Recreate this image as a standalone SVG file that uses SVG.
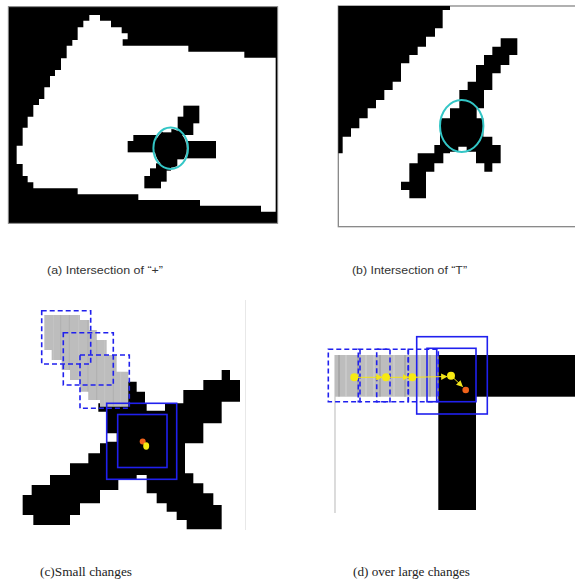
<svg xmlns="http://www.w3.org/2000/svg" width="575" height="583" viewBox="0 0 575 583">
<style>
.blk{fill:#000}
.wht{fill:#fff}
.frame{fill:#000;stroke:#8a8a8a;stroke-width:3}
.cyan{fill:none;stroke:#33c6c6;stroke-width:2}
.dash{fill:none;stroke:#2020ee;stroke-width:1.6;stroke-dasharray:5 3}
.box{fill:none;stroke:#2020ee;stroke-width:1.6}
.gray{fill:#bdbdbd}
.st1{stroke:#8c8c8c;stroke-width:0.8}
.st2{stroke:#d9d9d9;stroke-width:0.8}
.yel{fill:#f7ea12}
.org{fill:#f0621a}
.ar{stroke:#f2e41a;stroke-width:1;fill:none}
.sans{font-family:"Liberation Sans","Open Sans",sans-serif;font-size:11px;fill:#333}
.serif{font-family:"Liberation Serif","DejaVu Serif",serif;font-size:12px;fill:#222}
</style>
<defs>
<marker id="tri" viewBox="0 0 10 10" refX="9" refY="5" markerWidth="6.5" markerHeight="6.5" markerUnits="userSpaceOnUse" orient="auto">
<path d="M0,0 L10,5 L0,10 z" fill="#f2e41a"/>
</marker>
<clipPath id="clipC">
<polygon points="133,75 240,75 240,90 268,90 268,120 290,120 290,150 320,150 320,195 350,195 350,245 385,245 385,350 300,350 300,330 265,330 265,305 240,305 240,270 210,270 210,240 185,240 185,210 155,210 155,180 133,180"/>
</clipPath>
</defs>
<rect width="575" height="583" fill="#fff"/>

<g id="panel-a">
<g transform="scale(0.33333)">
<rect class="frame" x="25" y="20" width="808" height="650"/>
<polygon class="wht" points="268,45 300,45 300,62 333,62 333,82 365,82 365,100 383,100 383,118 368,118 368,137 565,137 565,155 733,155 733,173 827,173 827,635 783,635 783,617 600,617 600,600 415,600 415,583 233,583 233,565 100,565 100,547 83,547 83,528 68,528 68,492 50,492 50,437 68,437 68,383 83,383 83,350 100,350 100,315 117,315 117,297 133,297 133,262 150,262 150,228 165,228 165,210 183,210 183,175 200,175 200,137 217,137 217,120 233,120 233,82 250,82 250,62 268,62"/>
<rect class="blk" x="550" y="317" width="48" height="53"/>
<rect class="blk" x="533" y="350" width="47" height="55"/>
<rect class="blk" x="400" y="405" width="70" height="20"/>
<rect class="blk" x="383" y="423" width="87" height="34"/>
<ellipse class="blk" cx="512" cy="445" rx="48" ry="58"/>
<rect class="blk" x="560" y="423" width="88" height="52"/>
<rect class="blk" x="468" y="490" width="45" height="22"/>
<rect class="blk" x="450" y="505" width="50" height="40"/>
<rect class="blk" x="433" y="528" width="50" height="37"/>
<rect class="wht" x="488" y="383" width="26" height="14"/>
<rect class="wht" x="532" y="478" width="26" height="20"/>
</g>
<ellipse class="cyan" cx="170.7" cy="148.3" rx="17.3" ry="20.7"/>
</g>

<g id="panel-b">
<g transform="translate(330,0) scale(0.33333)">
<rect x="25" y="18" width="730" height="662" fill="#fff" stroke="#8a8a8a" stroke-width="4"/>
<polygon class="blk" points="25,18 360,18 360,30 338,30 338,85 315,85 315,110 288,110 288,140 263,140 263,165 238,165 238,190 213,190 213,245 188,245 188,270 163,270 163,300 138,300 138,325 113,325 113,355 88,355 88,385 63,385 63,410 38,410 38,460 25,460"/>
<polygon class="blk" points="512,115 562,115 562,165 538,165 538,195 512,195 512,220 487,220 487,270 462,270 462,325 440,325 440,355 460,355 460,410 487,410 487,435 512,435 512,490 487,490 487,515 463,515 463,490 438,490 438,455 410,455 410,440 385,440 385,455 360,455 360,460 340,460 340,490 313,490 313,515 288,515 288,595 238,595 238,570 213,570 213,545 238,545 238,490 263,490 263,460 313,460 313,435 330,435 330,355 360,355 360,325 388,325 388,270 413,270 413,245 438,245 438,195 462,195 462,165 487,165 487,140 512,140"/>
</g>
<ellipse class="cyan" cx="461.7" cy="126" rx="21.7" ry="26"/>
</g>

<g id="panel-c">
<line x1="245.5" y1="300" x2="245.5" y2="530" stroke="#e8e8e8" stroke-width="1"/>
<g transform="translate(0,290) scale(0.33333)">
<polygon class="blk" points="385,275 410,275 410,305 435,305 435,340 440,340 440,362 495,362 495,340 550,340 550,300 610,300 610,270 665,270 665,240 690,240 690,270 720,270 720,335 665,335 665,400 610,400 610,460 555,460 555,550 580,550 580,580 610,580 610,610 640,610 640,645 665,645 665,718 560,718 560,690 530,690 530,665 500,665 500,640 470,640 470,610 440,610 440,555 410,555 410,568 355,568 355,600 300,600 300,640 240,640 240,675 210,675 210,705 100,705 100,675 68,675 68,615 95,615 95,585 150,585 150,555 210,555 210,520 265,520 265,490 300,490 300,460 320,460 320,455 350,455 350,430 320,430 320,365 295,365 295,340 355,340 355,275"/>
<polygon class="gray" points="133,75 240,75 240,90 268,90 268,120 290,120 290,150 320,150 320,195 350,195 350,245 385,245 385,350 300,350 300,330 265,330 265,305 240,305 240,270 210,270 210,240 185,240 185,210 155,210 155,180 133,180"/>
<g clip-path="url(#clipC)">
<line class="st2" x1="160" y1="60" x2="160" y2="360" stroke-width="3"/>
<line class="st1" x1="182" y1="60" x2="182" y2="360" stroke-width="4"/>
<line class="st1" x1="208" y1="60" x2="208" y2="360" stroke-width="5"/>
<line class="st2" x1="236" y1="60" x2="236" y2="360" stroke-width="3"/>
<line class="st1" x1="264" y1="60" x2="264" y2="360" stroke-width="3"/>
<line class="st1" x1="290" y1="60" x2="290" y2="360" stroke-width="5"/>
<line class="st2" x1="314" y1="60" x2="314" y2="360" stroke-width="3"/>
<line class="st1" x1="340" y1="60" x2="340" y2="360" stroke-width="3"/>
<line class="st2" x1="362" y1="60" x2="362" y2="360" stroke-width="3"/>
</g>
</g>
<rect class="dash" x="41.7" y="310.7" width="49" height="53.3"/>
<rect class="dash" x="63.3" y="332.7" width="50" height="52.3"/>
<rect class="dash" x="80" y="355" width="49.3" height="53.3"/>
<rect class="box" x="106.7" y="403.3" width="70" height="76"/>
<rect class="box" x="117.7" y="414.5" width="49.3" height="53"/>
<circle class="org" cx="142.7" cy="441.5" r="3"/>
<ellipse class="yel" cx="146.2" cy="446" rx="3" ry="3.7"/>
</g>

<g id="panel-d">
<line x1="335" y1="355" x2="335" y2="513" stroke="#c4c4c4" stroke-width="1.2"/>
<rect class="blk" x="438.3" y="355" width="136.7" height="41.7"/>
<rect class="blk" x="438.3" y="396" width="37.7" height="114"/>
<rect class="gray" x="335" y="355" width="103.3" height="41.7"/>
<g>
<line class="st1" x1="339" y1="355" x2="339" y2="396.7"/>
<line class="st2" x1="346" y1="355" x2="346" y2="396.7"/>
<line class="st1" x1="358" y1="355" x2="358" y2="396.7"/>
<line class="st2" x1="366" y1="355" x2="366" y2="396.7"/>
<line class="st2" x1="374" y1="355" x2="374" y2="396.7"/>
<line class="st1" x1="380" y1="355" x2="380" y2="396.7"/>
<line class="st2" x1="394" y1="355" x2="394" y2="396.7"/>
<line class="st1" x1="405" y1="355" x2="405" y2="396.7"/>
<line class="st2" x1="420" y1="355" x2="420" y2="396.7"/>
<line class="st1" x1="430" y1="355" x2="430" y2="396.7"/>
</g>
<rect class="dash" x="328.3" y="349.3" width="31.7" height="52.4"/>
<rect class="dash" x="358.3" y="349.3" width="31.7" height="52.4"/>
<rect class="dash" x="376.7" y="349.3" width="31.6" height="52.4"/>
<rect class="dash" x="408.3" y="349.3" width="30" height="52.4"/>
<rect class="box" x="416.7" y="336.7" width="70.6" height="77.3"/>
<rect class="box" x="427" y="348.3" width="49" height="53.4"/>
<line x1="436.7" y1="348.3" x2="436.7" y2="401.7" stroke="#2020ee" stroke-width="1.6"/>
<g id="track">
<line class="ar" x1="354.3" y1="377.3" x2="382" y2="377.3" marker-end="url(#tri)"/>
<line class="ar" x1="386" y1="377.3" x2="408.5" y2="377.3" marker-end="url(#tri)"/>
<line class="ar" x1="412.3" y1="377.3" x2="447" y2="376.5" marker-end="url(#tri)"/>
<line class="ar" x1="451" y1="375.7" x2="462.5" y2="386.5" marker-end="url(#tri)"/>
</g>
<circle class="yel" cx="354.3" cy="377.3" r="4"/>
<circle class="yel" cx="386" cy="377.3" r="4"/>
<circle class="yel" cx="412.3" cy="377.3" r="4"/>
<circle class="yel" cx="451" cy="375.7" r="4"/>
<circle class="org" cx="465.7" cy="390" r="3.3"/>
</g>

<g id="labels">
<text class="sans" x="47" y="274" textLength="116" lengthAdjust="spacingAndGlyphs">(a) Intersection of “+”</text>
<text class="sans" x="352" y="274" textLength="115" lengthAdjust="spacingAndGlyphs">(b) Intersection of “T”</text>
<text class="serif" x="40" y="576" textLength="92" lengthAdjust="spacingAndGlyphs">(c)Small changes</text>
<text class="serif" x="353" y="576" textLength="117" lengthAdjust="spacingAndGlyphs">(d) over large changes</text>
</g>
</svg>
